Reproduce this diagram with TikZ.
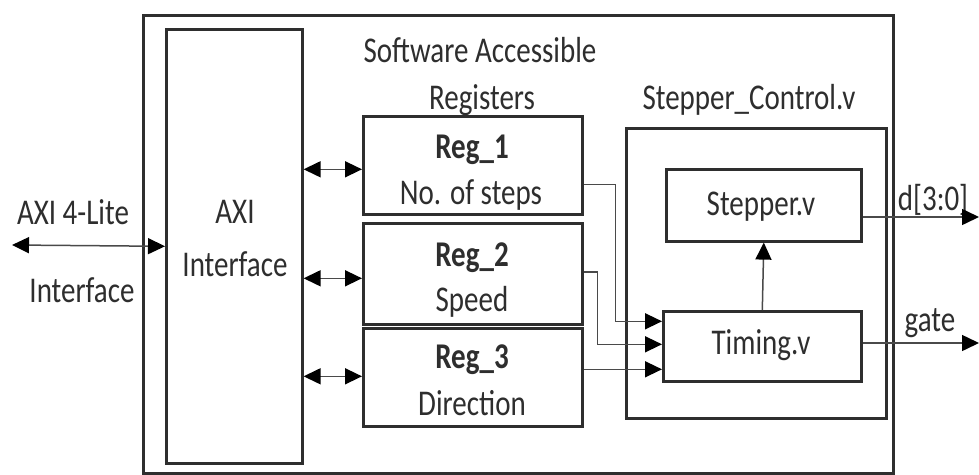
\documentclass[tikz,border=0pt]{standalone}
\usepackage{fontspec}
\setmainfont{Carlito}
\usepackage{graphicx}
\usetikzlibrary{arrows.meta,calc}
\definecolor{ln}{HTML}{2E2E2E}
\definecolor{cn}{HTML}{4A4A4A}
\newcommand{\vt}[1]{\scalebox{1}[1.25]{#1}}
\begin{document}
\begin{tikzpicture}[x=1pt,y=-1pt,
  box/.style={draw=ln,line width=2.6pt,inner sep=0pt,anchor=north west},
  txt/.style={inner sep=0pt,font=\fontsize{29}{34}\selectfont,text=black!82},
  conn/.style={draw=cn,line width=1.5pt},
  tip/.style={-{Triangle[length=17pt,width=16pt,color=black]}},
  btip/.style={{Triangle[length=17pt,width=16pt,color=black]}-{Triangle[length=17pt,width=16pt,color=black]}}]
\useasboundingbox (0,0) rectangle (979,474);
\fill[white] (0,0) rectangle (979,474);

% boxes
\node[box,minimum width=750pt,minimum height=458pt] (outer) at (142,14) {};
\node[box,minimum width=136pt,minimum height=434pt] (axi) at (165,28) {};
\node[box,minimum width=219pt,minimum height=98pt] (r1) at (362,115) {};
\node[box,minimum width=219pt,minimum height=101pt] (r2) at (362,222) {};
\node[box,minimum width=219pt,minimum height=98pt] (r3) at (362,327) {};
\node[box,minimum width=260pt,minimum height=290pt] (sc) at (625,127) {};
\node[box,minimum width=195pt,minimum height=72pt] (st) at (665,168) {};
\node[box,minimum width=198pt,minimum height=70pt] (tm) at (662,310) {};

% texts
\node[txt] (axit1) at (235,212) {\vt{AXI}};
\node[txt] (axit2) at (235,264) {\vt{Interface}};
\node[txt] (ext1) at (73,212) {\vt{AXI 4-Lite}};
\node[txt] (ext2) at (82,290) {\vt{Interface}};
\node[txt] (sw1) at (480,50) {\vt{Software Accessible}};
\node[txt] (sw2) at (482,100) {\vt{Registers}};
\node[txt] (sct) at (749,100) {\vt{Stepper\_Control.v}};
\node[txt,font=\fontsize{29}{34}\selectfont\bfseries] (r1a) at (472,150) {\vt{Reg\_1}};
\node[txt] (r1b) at (471,195) {\vt{No. of steps}};
\node[txt,font=\fontsize{29}{34}\selectfont\bfseries] (r2a) at (472,258) {\vt{Reg\_2}};
\node[txt] (r2b) at (472,302) {\vt{Speed}};
\node[txt,font=\fontsize{29}{34}\selectfont\bfseries] (r3a) at (472,360) {\vt{Reg\_3}};
\node[txt] (r3b) at (472,403) {\vt{Direction}};
\node[txt] (stt) at (761,207) {\vt{Stepper.v}};
\node[txt] (tmt) at (761,345) {\vt{Timing.v}};
\node[txt] (dl) at (933,200) {\vt{d[3:0]}};
\node[txt] (gl) at (930,323) {\vt{gate}};

% connectors
\coordinate (lend) at (12,245);
\draw[conn,btip] (lend) -- (axi.west);
\draw[conn,btip] ($(axi.east)+(0,-77)$) coordinate (a1) -- (a1 -| r1.west);
\draw[conn,btip] ($(axi.east)+(0,32)$) coordinate (a2) -- (a2 -| r2.west);
\draw[conn,btip] ($(axi.east)+(0,130)$) coordinate (a3) -- (a3 -| r3.west);

\draw[conn,tip] ($(r1.east)+(0,19)$) -- ++(32,0) |- ($(tm.west)+(0,-25)$);
\draw[conn,tip] ($(r2.east)+(0,-2)$) -- ++(14,0) |- ($(tm.west)+(0,-2)$);
\draw[conn,tip] ($(r3.east)+(0,-8)$) coordinate (r3o) -- (r3o -| tm.west);

\draw[conn,tip] (tm.north) -- (st.south);

\coordinate (dend) at (979,217);
\coordinate (gend) at (979,343);
\draw[conn,tip] (dend -| st.east) -- (dend);
\draw[conn,tip] (gend -| tm.east) -- (gend);
\end{tikzpicture}
\end{document}
